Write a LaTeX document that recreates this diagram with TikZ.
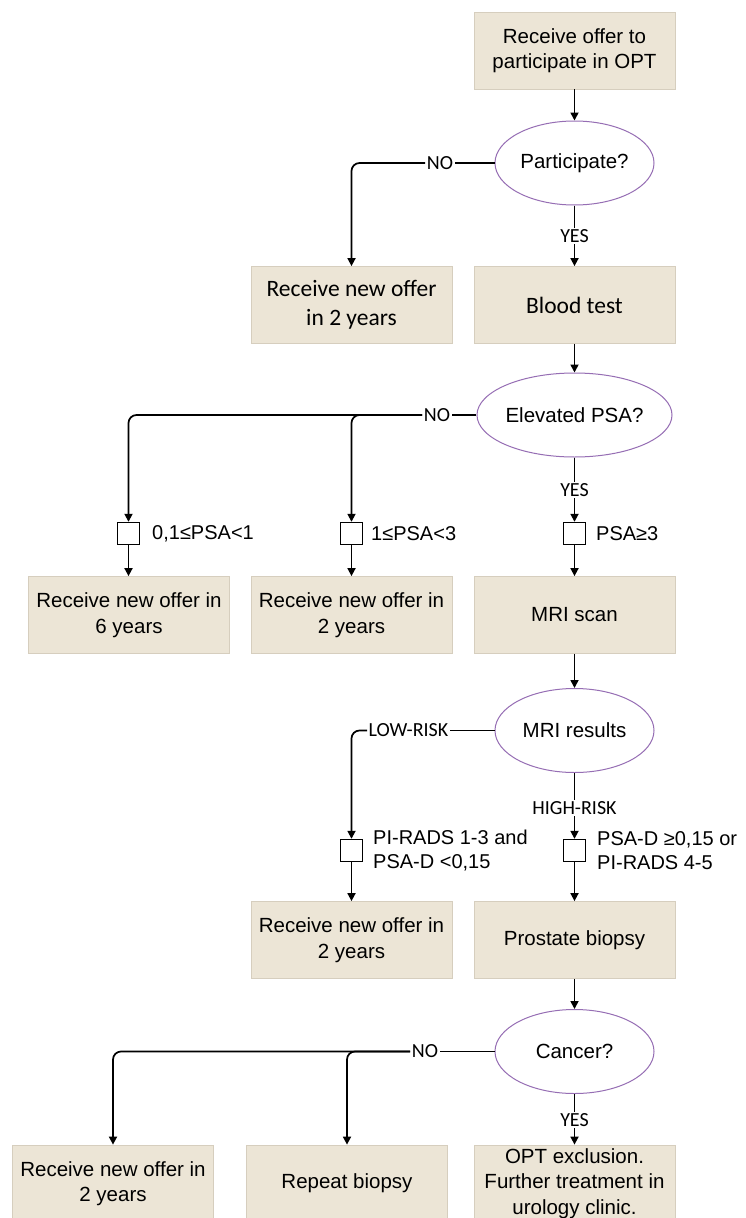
\documentclass[tikz,border=0pt]{standalone}
\usepackage{fontspec}
\setmainfont{Liberation Sans}
\newfontfamily\calfont{Carlito}
\usetikzlibrary{shapes.geometric,arrows.meta}
\definecolor{boxfill}{RGB}{236,229,214}
\definecolor{boxline}{RGB}{214,206,190}
\definecolor{ellline}{RGB}{150,110,180}
\tikzset{
 box/.style={rectangle, fill=boxfill, draw=boxline, line width=0.8pt, minimum width=201pt, minimum height=77pt, inner sep=0pt, align=center, font=\fontsize{20.5}{25.5}\selectfont},
 calbox/.style={box, font=\calfont\fontsize{23.5}{29}\selectfont},
 dec/.style={ellipse, fill=white, draw=ellline, line width=1pt, minimum width=159pt, minimum height=84pt, inner sep=0pt, font=\fontsize{20.5}{25}\selectfont},
 sq/.style={rectangle, draw=black, fill=white, line width=1.4pt, minimum size=22pt, inner sep=0pt},
 lbl/.style={inner sep=1.5pt, font=\calfont\fontsize{20}{23}\selectfont},
 cond/.style={anchor=west, align=left, inner sep=0pt, font=\fontsize{20}{24.5}\selectfont},
 conn/.style={line width=1.7pt, draw=black},
 arr/.style={conn, -{Triangle[length=8pt,width=8pt]}},
 roundbend/.style={rounded corners=8pt},
}
\begin{document}
\begin{tikzpicture}[x=1pt,y=-1pt]
\useasboundingbox (0,0) rectangle (746,1218);
\fill[white] (0,0) rectangle (746,1218);

% row A/B
\node[box] (a) at (574.5,50.5) {Receive offer to\\participate in OPT};
\node[dec] (p) at (574.5,163) {Participate?};
\node[lbl] (no1) at (440,163) {NO};
\node[lbl] (yes1) at (574.5,236) {YES};
\node[calbox] (b1) at (351.5,305) {Receive new offer\\in 2 years};
\node[calbox] (b2) at (574.5,305) {Blood test};
\draw[arr] (a.south) -- (p.north);
\draw[conn] (p.west) -- (no1.east);
\draw[arr,roundbend] (no1.west) -| (b1.north);
\draw[conn] (p.south) -- (yes1.north);
\draw[arr] (yes1.south) -- (b2.north);

% row C
\node[dec] (e) at (574.5,415) {Elevated PSA?};
\node[lbl] (no2) at (437,415) {NO};
\node[lbl] (yes2) at (574.5,490) {YES};
\node[sq] (s1) at (128.5,533.5) {};
\node[sq] (s2) at (351.5,533.5) {};
\node[sq] (s3) at (574.5,533.5) {};
\node[cond] (t1) at (152,533.5) {0,1≤PSA<1};
\node[cond] (t2) at (371,533.5) {1≤PSA<3};
\node[cond] (t3) at (596,533.5) {PSA≥3};
\node[box] (c1) at (129,615) {Receive new offer in\\6 years};
\node[box] (c2) at (351.5,615) {Receive new offer in\\2 years};
\node[box] (c3) at (574.5,615) {MRI scan};
\draw[arr] (b2.south) -- (e.north);
\draw[conn] (e.west) -- (no2.east);
\draw[arr,roundbend] (no2.west) -| (s2.north);
\draw[arr,roundbend] (no2.west) -| (s1.north);
\draw[conn] (e.south) -- (yes2.north);
\draw[arr] (yes2.south) -- (s3.north);
\draw[arr] (s1.south) -- (s1.south |- c1.north);
\draw[arr] (s2.south) -- (s2.south |- c2.north);
\draw[arr] (s3.south) -- (c3.north);

% row D
\node[dec] (m) at (574.5,730.5) {MRI results};
\node[lbl,anchor=west] (low) at (367,730.5) {LOW-RISK};
\node[lbl] (high) at (574.5,808) {HIGH-RISK};
\node[sq] (s4) at (351.5,850.5) {};
\node[sq] (s5) at (574.5,850.5) {};
\node[cond] (t4) at (373,850.5) {PI-RADS 1-3 and\\PSA-D <0,15};
\node[cond] (t5) at (597,850.5) {PSA-D ≥0,15 or\\PI-RADS 4-5};
\node[box] (d1) at (351.5,940) {Receive new offer in\\2 years};
\node[box] (d2) at (574.5,940) {Prostate biopsy};
\draw[arr] (c3.south) -- (m.north);
\draw[conn] (m.west) -- (low.east);
\draw[arr,roundbend] (low.west) -| (s4.north);
\draw[conn] (m.south) -- (high.north);
\draw[arr] (high.south) -- (s5.north);
\draw[arr] (s4.south) -- (d1.north);
\draw[arr] (s5.south) -- (d2.north);

% row E
\node[dec] (k) at (574.5,1051.5) {Cancer?};
\node[lbl] (no3) at (425,1051.5) {NO};
\node[lbl] (yes3) at (574.5,1120) {YES};
\node[box] (f1) at (113,1183.5) {Receive new offer in\\2 years};
\node[box] (f2) at (347,1183.5) {Repeat biopsy};
\node[box] (f3) at (574.5,1183.5) {OPT exclusion.\\Further treatment in\\urology clinic.};
\draw[arr] (d2.south) -- (k.north);
\draw[conn] (k.west) -- (no3.east);
\draw[arr,roundbend] (no3.west) -| (f2.north);
\draw[arr,roundbend] (no3.west) -| (f1.north);
\draw[conn] (k.south) -- (yes3.north);
\draw[arr] (yes3.south) -- (f3.north);
\end{tikzpicture}
\end{document}
